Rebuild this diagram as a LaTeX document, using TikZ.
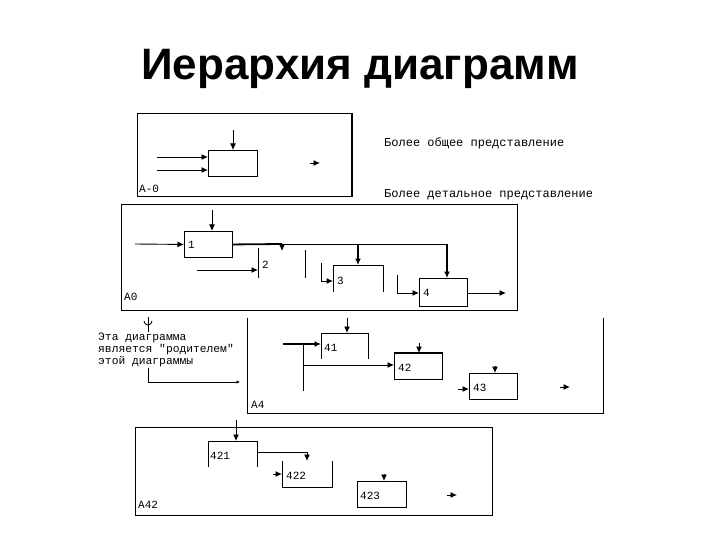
\documentclass[tikz,border=0pt]{standalone}
\usepackage{fontspec}
\setmainfont{Liberation Sans}
\newfontfamily\monof{Liberation Mono}
\usetikzlibrary{arrows.meta}
\tikzset{
  frame/.style={draw, line width=0.9pt},
  ln/.style={line width=0.9pt},
  thk/.style={line width=1.8pt},
  box/.style={draw, line width=0.9pt, inner sep=0pt, anchor=north west},
  arr/.style={-{Latex[length=6.5pt,width=6pt]}, line width=0.9pt},
  sarr/.style={-{Latex[length=3.5pt,width=3.5pt]}, line width=0.7pt},
  lbl/.style={font=\monof\fontsize{11}{12}\selectfont, inner sep=0pt, anchor=west},
  note/.style={font=\monof\fontsize{12}{12}\selectfont, inner sep=0pt, anchor=west},
}
\begin{document}
\begin{tikzpicture}[x=1pt,y=-1pt]
\useasboundingbox (0,0) rectangle (720,540);
\fill[white] (0,0) rectangle (720,540);

% title
\node[font=\bfseries\fontsize{44}{48}\selectfont, inner sep=0pt] (title) at (360,69) {Иерархия диаграмм};

% ---------- A-0 ----------
\draw[frame] (137,113) rectangle (352,196);
\draw[line width=2pt] (352,113) -- (352,196);
\node[box, minimum width=49pt, minimum height=26pt] (a0b) at (208,150) {};
\coordinate (a0c) at (233,130);
\draw[arr] (a0c) -- (a0c |- a0b.north);
\coordinate (a0i1) at (157,157);
\coordinate (a0i2) at (157,170);
\draw[arr] (a0i1) -- (a0i1 -| a0b.west);
\draw[arr] (a0i2) -- (a0i2 -| a0b.west);
\coordinate (a0o) at (310,163);
\coordinate (a0oe) at (320,163);
\draw[arr] (a0o) -- (a0oe);
\node[lbl] (la0) at (139,189) {A-0};

\node[note] (gen) at (384,143) {Более общее представление};
\node[note] (det) at (384,195) {Более детальное представление};

% ---------- A0 ----------
\draw[frame] (121,204) rectangle (517,310);
\node[box, minimum width=48pt, minimum height=26pt] (b1) at (184,231) {};
\node[lbl] (l1) at (188,245) {1};
\coordinate (b1c) at (212,210);
\draw[arr] (b1c) -- (b1c |- b1.north);
\coordinate (b1i) at (135,244);
\draw[arr] (b1i) -- (b1.west);
\node[box, minimum width=48pt, minimum height=28pt] (b4) at (419,278) {};
\coordinate (turn) at (447,244);
\draw[thk] (b1.east) -- (282,244);
\draw[ln] (282,244) -- (turn);
\draw[arr, line width=1.3pt] (turn) -- (turn |- b4.north);
\coordinate (d2) at (282,244);
\coordinate (d2e) at (282,251);
\draw[arr] (d2) -- (d2e);
% box 2
\coordinate (b2t) at (258,248);
\coordinate (b2b) at (258,278);
\draw[ln] (b2t) -- (b2b);
\coordinate (b2i) at (197,270);
\draw[arr] (b2i) -- (b2i -| b2t);
\node[lbl] (l2) at (262,265) {2};
\coordinate (v5t) at (305,250);
\coordinate (v5b) at (305,278);
\draw[ln] (v5t) -- (v5b);
% box 3
\coordinate (b3l) at (333,292);
\coordinate (b3r) at (383,292);
\draw[ln] (b3l) -- (333,265) -- (383,265) -- (b3r);
\coordinate (b3c) at (358,244);
\draw[arr, line width=1.3pt] (b3c) -- (358,265);
\coordinate (b3i) at (321,263);
\draw[arr] (b3i) -- (321,281) -- (b3l |- 0,281);
\node[lbl] (l3) at (337,281) {3};
% box 4
\coordinate (b4i) at (397,275);
\draw[arr] (b4i) -- (397,293) -- (b4.west |- 0,293);
\node[lbl] (l4) at (423,293) {4};
\coordinate (b4o) at (506,293);
\draw[arr] (b4.east |- b4o) -- (b4o);
\node[lbl] (la00) at (124,297) {A0};

% ---------- parent note ----------
\coordinate (pa) at (148,317);
\coordinate (pe) at (240,382);
\draw[ln] (144,321) arc (180:0:4);
\draw[sarr] (pa) -- (pa |- pe) -- (pe);
\node[note, anchor=north west, align=left, fill=white, inner sep=1pt, font=\monof\fontsize{11.3}{12}\selectfont] (parent) at (97,332) {Эта диаграмма\\является "родителем"\\этой диаграммы};

% ---------- A4 ----------
\draw[frame] (247,318) -- (247,413) -- (603,413) -- (603,318);
\coordinate (b41l) at (321,359);
\coordinate (b41r) at (368,359);
\draw[ln] (b41l) -- (321,333) -- (368,333) -- (b41r);
\coordinate (b41c) at (347,318);
\draw[arr] (b41c) -- (347,333);
\node[lbl] (l41) at (324,348) {41};
\coordinate (b41i) at (283,344);
\draw[-{Latex[length=6.5pt,width=6pt]}, thk] (b41i) -- (b41l |- b41i);
\coordinate (v4t) at (303,344);
\coordinate (v4b) at (303,391);
\draw[ln] (v4t) -- (v4b);
\node[box, minimum width=48pt, minimum height=26pt] (b42) at (394,353) {};
\draw[thk] (b42.north west) -- (b42.north east);
\draw[arr] (303,365) -- (b42.west |- 0,365);
\coordinate (b42c) at (419,343);
\draw[arr] (b42c) -- (b42c |- b42.north);
\node[lbl] (l42) at (398,368) {42};
\node[box, minimum width=48pt, minimum height=26pt] (b43) at (469,373) {};
\coordinate (b43c) at (495,366);
\draw[arr] (b43c) -- (b43c |- b43.north);
\coordinate (b43i) at (458,389);
\draw[arr] (b43i) -- (b43.west |- b43i);
\node[lbl] (l43) at (473,388) {43};
\coordinate (b43o) at (560,387);
\draw[arr] (b43o) -- (570,387);
\node[lbl] (la4) at (251,405) {A4};

% ---------- A42 ----------
\draw[frame] (135,427) rectangle (492,515);
\coordinate (b421l) at (208,467);
\coordinate (b421r) at (257,467);
\draw[ln] (b421l) -- (208,441) -- (257,441) -- (b421r);
\coordinate (b421c) at (236,420);
\draw[arr] (b421c) -- (236,441);
\node[lbl] (l421) at (210,456) {421};
\coordinate (b421o) at (257,452);
\draw[arr] (b421o) -- (307,452) -- (307,461);
\coordinate (b422l) at (282,461);
\coordinate (b422r) at (332,461);
\draw[ln] (b422l) -- (282,487) -- (332,487) -- (b422r);
\coordinate (b422i) at (273,474);
\draw[arr] (b422i) -- (b422l |- b422i);
\node[lbl] (l422) at (286,476) {422};
\node[box, minimum width=49pt, minimum height=26pt] (b423) at (357,481) {};
\coordinate (b423c) at (384,474);
\draw[arr] (b423c) -- (b423c |- b423.north);
\node[lbl] (l423) at (360,496) {423};
\coordinate (b423o) at (447,495);
\draw[arr] (b423o) -- (457,495);
\node[lbl] (la42) at (138,505) {A42};
\end{tikzpicture}
\end{document}
